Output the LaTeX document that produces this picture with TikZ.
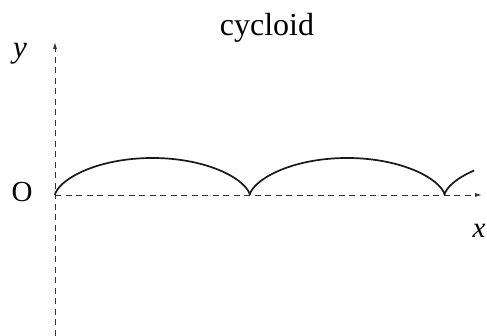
\documentclass[tikz,border=0pt]{standalone}
\usepackage{fontspec}
\setmainfont{Liberation Serif}
\usetikzlibrary{arrows.meta}
\begin{document}
\begin{tikzpicture}[x=1pt,y=1pt,
  axis/.style={line width=0.9pt, dash pattern=on 6pt off 4.5pt, -{Latex[length=7pt,width=4pt]}, black!80},
  curve/.style={line width=1.7pt, black!90},
  lbl/.style={inner sep=0pt, font=\fontsize{29}{31}\selectfont}]
\useasboundingbox (0,0) rectangle (487,336);
\coordinate (ybot) at (55,0);
\coordinate (ytop) at (55,294);
\coordinate (orig) at (55,141);
\coordinate (xend) at (482,141);
\draw[axis] (ybot) -- (ytop);
\draw[axis] (orig) -- (xend);
\draw[curve, line join=round] plot[domain=0:14.47, samples=300, smooth] ({55+31*(\x - sin(\x r))}, {141+18.5*(1-cos(\x r))});
\node[lbl, font=\fontsize{32}{34}\selectfont, anchor=base] (title) at (267,300) {cycloid};
\node[lbl, font=\fontsize{31}{33}\selectfont, anchor=base] (ylbl) at (20,278) {\itshape y};
\node[lbl] (olbl) at (22,144) {O};
\node[lbl] (xlbl) at (479,105) {\itshape x};
\end{tikzpicture}
\end{document}
